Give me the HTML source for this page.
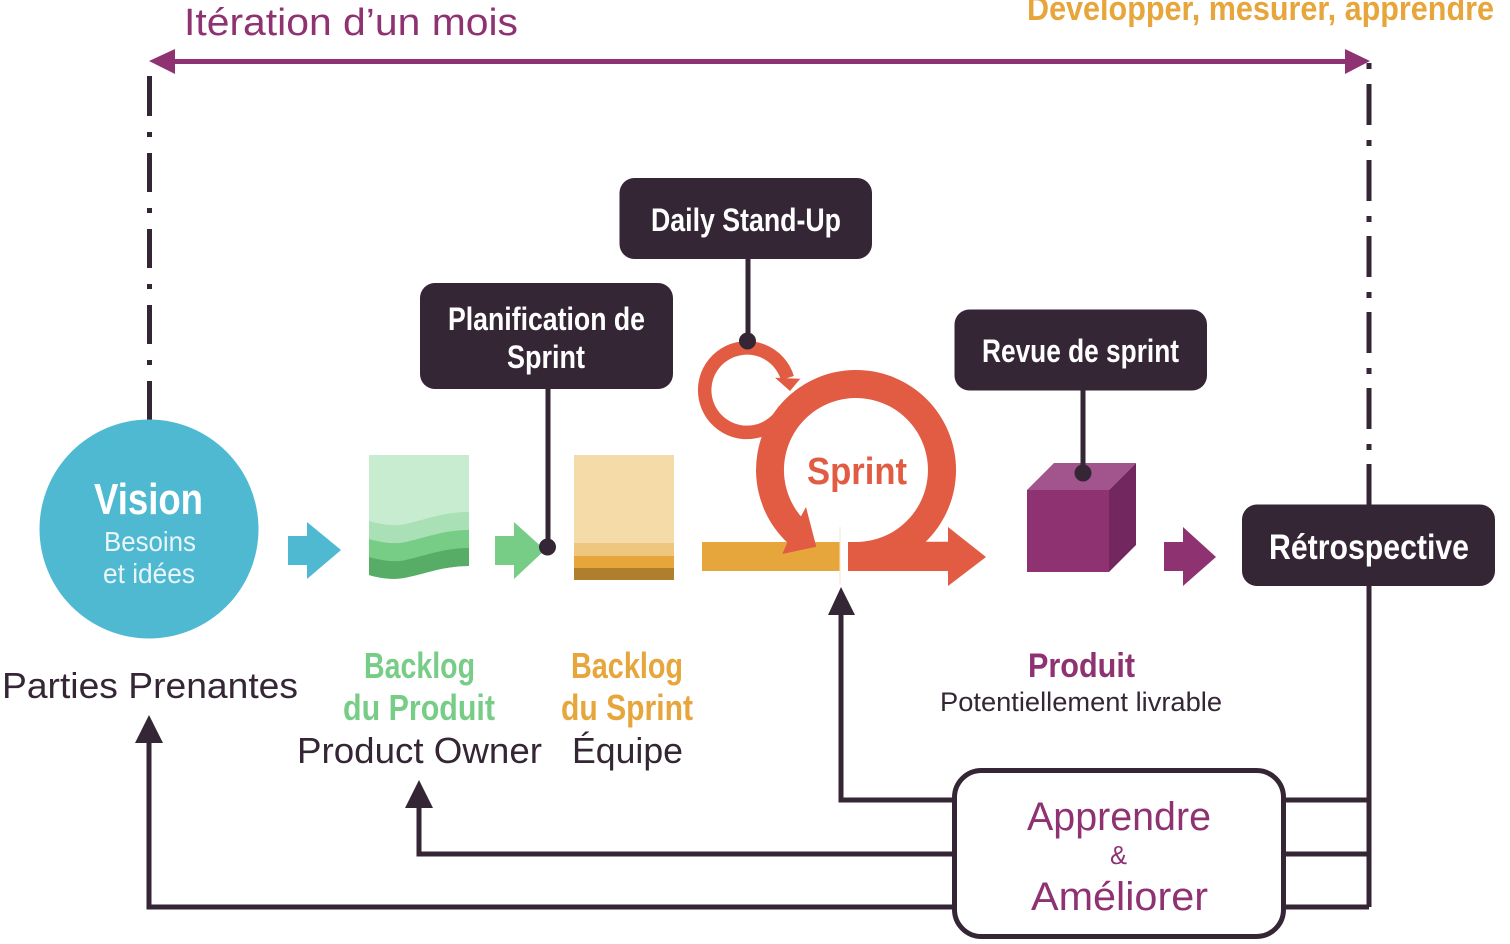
<!DOCTYPE html>
<html lang="fr">
<head>
<meta charset="utf-8">
<title>Sprint</title>
<style>
html,body{margin:0;padding:0;background:#fff;width:1510px;height:944px;overflow:hidden}
svg{display:block}
text{font-family:"Liberation Sans Narrow","Liberation Sans",sans-serif}
.b{font-weight:bold}
</style>
</head>
<body>
<svg width="1510" height="944" viewBox="0 0 1510 944" xmlns="http://www.w3.org/2000/svg">
<rect width="1510" height="944" fill="#fff"/>

<!-- top labels -->
<text x="184" y="35" font-size="38" fill="#8e3272" textLength="334" lengthAdjust="spacingAndGlyphs">Itération d’un mois</text>
<text x="1027" y="20" font-size="34" class="b" fill="#e6a63c" textLength="467" lengthAdjust="spacingAndGlyphs">Développer, mesurer, apprendre</text>

<!-- dash-dot verticals -->
<g fill="#352635">
<rect x="147" y="76" width="5" height="40"/><rect x="147" y="132" width="5" height="5"/>
<rect x="147" y="153" width="5" height="39"/><rect x="147" y="208" width="5" height="5"/>
<rect x="147" y="229" width="5" height="39"/><rect x="147" y="284" width="5" height="5"/>
<rect x="147" y="305" width="5" height="39"/><rect x="147" y="360" width="5" height="5"/>
<rect x="147" y="381" width="5" height="45"/>
<rect x="1366.5" y="63" width="5" height="6"/>
<rect x="1366.5" y="84" width="5" height="41"/><rect x="1366.5" y="140" width="5" height="6"/>
<rect x="1366.5" y="160" width="5" height="41"/><rect x="1366.5" y="216" width="5" height="6"/>
<rect x="1366.5" y="236" width="5" height="41"/><rect x="1366.5" y="292" width="5" height="6"/>
<rect x="1366.5" y="312" width="5" height="41"/><rect x="1366.5" y="368" width="5" height="6"/>
<rect x="1366.5" y="388" width="5" height="41"/><rect x="1366.5" y="444" width="5" height="6"/>
<rect x="1366.5" y="464" width="5" height="41"/>
</g>

<!-- iteration arrow -->
<rect x="170" y="59" width="1180" height="5" fill="#8e3272"/>
<polygon points="149,61 175,49 175,74" fill="#8e3272"/>
<polygon points="1345,49 1370,61 1345,74" fill="#8e3272"/>

<!-- feedback connectors -->
<g fill="none" stroke="#352635" stroke-width="5">
<path d="M1369,586V907"/>
<path d="M1286,800H1369M1286,854H1369M1286,907H1369"/>
<path d="M954,800H841V612"/>
<path d="M954,854H419V805"/>
<path d="M954,907H149V740"/>
</g>
<polygon points="841,587 855,615 828,615" fill="#352635"/>
<polygon points="419,780 433,808 405,808" fill="#352635"/>
<polygon points="149,715 163,743 135,743" fill="#352635"/>

<!-- learn box -->
<rect x="954.5" y="770.5" width="329" height="166" rx="27" ry="27" fill="#fff" stroke="#352635" stroke-width="5"/>
<text x="1027" y="830" font-size="40" fill="#8e3272" textLength="184" lengthAdjust="spacingAndGlyphs">Apprendre</text>
<text x="1110" y="864" font-size="26" fill="#8e3272" textLength="17" lengthAdjust="spacingAndGlyphs">&amp;</text>
<text x="1031" y="910" font-size="40" fill="#8e3272" textLength="177" lengthAdjust="spacingAndGlyphs">Améliorer</text>

<!-- vision -->
<circle cx="149" cy="529" r="109.5" fill="#50b9d2"/>
<text x="94" y="514" font-size="44" class="b" fill="#fff" textLength="109" lengthAdjust="spacingAndGlyphs">Vision</text>
<text x="104" y="551" font-size="28" fill="#e8f6f9" textLength="92" lengthAdjust="spacingAndGlyphs">Besoins</text>
<text x="103" y="583" font-size="28" fill="#e8f6f9" textLength="92" lengthAdjust="spacingAndGlyphs">et idées</text>
<text x="2" y="698" font-size="36" fill="#352635" textLength="296" lengthAdjust="spacingAndGlyphs">Parties Prenantes</text>

<!-- blue arrow -->
<polygon points="288,536 307,536 307,522 341,550 307,579 307,565 288,565" fill="#50b9d2"/>

<!-- product backlog -->
<rect x="369" y="455" width="100" height="80" fill="#c7ecd0"/>
<path d="M369,521C381,524.500 391,525.500 400,525C420,522 440,512 469,512V566C440,566 420,576 400,578.500C391,579.500 381,578.500 369,575Z" fill="#a9e0b5"/>
<path d="M369,539C381,542.500 391,543.500 400,543C420,540 440,530 469,530V566C440,566 420,576 400,578.500C391,579.500 381,578.500 369,575Z" fill="#77cd86"/>
<path d="M369,557C381,560.500 391,561.500 400,561C420,558 440,548 469,548V566C440,566 420,576 400,578.500C391,579.500 381,578.500 369,575Z" fill="#58ad66"/>

<!-- green arrow -->
<polygon points="495,536 514,536 514,522 545,550 514,579 514,565 495,565" fill="#77cd86"/>

<!-- sprint backlog -->
<rect x="574" y="455" width="100" height="88" fill="#f4dba8"/>
<rect x="574" y="543" width="100" height="13" fill="#eec67e"/>
<rect x="574" y="556" width="100" height="12" fill="#e6a63c"/>
<rect x="574" y="568" width="100" height="12" fill="#b07f2e"/>

<!-- labels under backlogs -->
<text x="364" y="678" font-size="36" class="b" fill="#77cd86" textLength="111" lengthAdjust="spacingAndGlyphs">Backlog</text>
<text x="343" y="720" font-size="36" class="b" fill="#77cd86" textLength="152" lengthAdjust="spacingAndGlyphs">du Produit</text>
<text x="297" y="763" font-size="36" fill="#352635" textLength="245" lengthAdjust="spacingAndGlyphs">Product Owner</text>
<text x="571" y="678" font-size="36" class="b" fill="#e6a63c" textLength="112" lengthAdjust="spacingAndGlyphs">Backlog</text>
<text x="561" y="720" font-size="36" class="b" fill="#e6a63c" textLength="132" lengthAdjust="spacingAndGlyphs">du Sprint</text>
<text x="572" y="763" font-size="36" fill="#352635" textLength="111" lengthAdjust="spacingAndGlyphs">Équipe</text>

<!-- sprint bar -->
<rect x="702" y="542" width="138" height="29" fill="#e6a63c"/>
<rect x="839.500" y="527" width="1" height="58" fill="#f6e6c8"/>

<!-- daily loop: centre 747,390 r 42.250 -->
<path d="M784.500,409.500A42.250,42.250 0 1 1 787.400,378" fill="none" stroke="#e15c43" stroke-width="13.500"/>
<polygon points="775,377.700 800.300,378.700 790,391" fill="#e15c43"/>

<!-- sprint ring: centre 856,470 -->
<path d="M848,542H856A72,72 0 1 0 800.900,516.400L806,507L816.300,546.700L782.300,554L787.300,542.600A100,100 0 1 1 925.700,541.700H948V527L986,557L948,586V571H848Z" fill="#e15c43"/>
<text x="807" y="484" font-size="38" class="b" fill="#e15c43" textLength="100" lengthAdjust="spacingAndGlyphs">Sprint</text>

<!-- cube -->
<polygon points="1027,490 1054,463 1136,463 1109,490" fill="#a1558c"/>
<rect x="1027" y="490" width="82" height="82" fill="#8e3272"/>
<polygon points="1109,490 1136,463 1136,545 1109,572" fill="#72275f"/>

<!-- purple arrow -->
<polygon points="1164,542 1183,542 1183,527 1216,557 1183,586 1183,571 1164,571" fill="#8e3272"/>

<text x="1028" y="677" font-size="34" class="b" fill="#8e3272" textLength="107" lengthAdjust="spacingAndGlyphs">Produit</text>
<text x="940" y="711" font-size="27" fill="#352635" textLength="282" lengthAdjust="spacingAndGlyphs">Potentiellement livrable</text>

<!-- dark connectors -->
<g stroke="#352635" stroke-width="5" fill="none">
<path d="M748,259V341"/>
<path d="M548,389V547"/>
<path d="M1083,390V473"/>
</g>
<g fill="#352635">
<circle cx="747.500" cy="341" r="8.500"/>
<circle cx="547.500" cy="547" r="8.500"/>
<circle cx="1083" cy="473" r="8.500"/>
</g>

<!-- dark boxes -->
<g fill="#352635">
<rect x="619.500" y="178" width="252.500" height="81" rx="15"/>
<rect x="420" y="283" width="253" height="106" rx="15"/>
<rect x="954.500" y="309.500" width="252.500" height="81" rx="15"/>
<rect x="1242" y="504.500" width="253" height="81.500" rx="15"/>
</g>
<text x="651" y="231" font-size="32" class="b" fill="#fff" textLength="190" lengthAdjust="spacingAndGlyphs">Daily Stand-Up</text>
<text x="448" y="330" font-size="32" class="b" fill="#fff" textLength="197" lengthAdjust="spacingAndGlyphs">Planification de</text>
<text x="507" y="368" font-size="32" class="b" fill="#fff" textLength="78" lengthAdjust="spacingAndGlyphs">Sprint</text>
<text x="982" y="362" font-size="32" class="b" fill="#fff" textLength="197" lengthAdjust="spacingAndGlyphs">Revue de sprint</text>
<text x="1269" y="559" font-size="35" class="b" fill="#fff" textLength="200" lengthAdjust="spacingAndGlyphs">Rétrospective</text>
</svg>
</body>
</html>
